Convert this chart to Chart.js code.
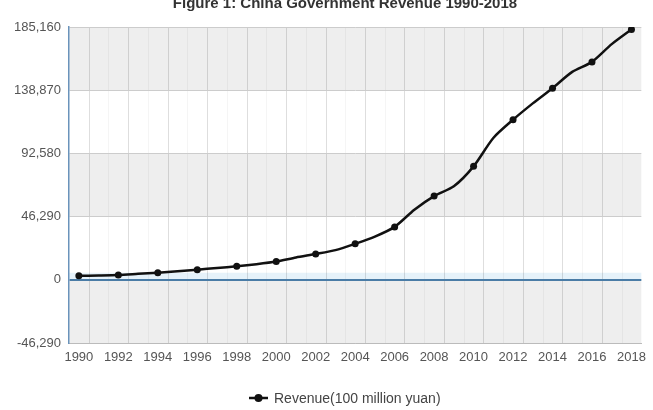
<!DOCTYPE html>
<html>
<head>
<meta charset="utf-8">
<script src="https://cdn.jsdelivr.net/npm/chart.js@4/dist/chart.umd.min.js"></script>
<style>
  html, body { margin: 0; padding: 0; background: #ffffff; }
  #wrap { width: 653px; height: 410px; position: relative; }
</style>
</head>
<body>
<div id="wrap"><canvas id="c" width="653" height="410"></canvas></div>
<script>
// Fiscal revenue of the Chinese government, 100 million yuan
const years = ['1990','1991','1992','1993','1994','1995','1996','1997','1998','1999',
               '2000','2001','2002','2003','2004','2005','2006','2007','2008','2009',
               '2010','2011','2012','2013','2014','2015','2016','2017','2018'];
const revenue = [2937, 3149, 3483, 4349, 5218, 6242, 7408, 8651, 9876, 11444,
                 13395, 16386, 18904, 21715, 26396, 31649, 38760, 51322, 61330, 68518,
                 83102, 103874, 117254, 129210, 140370, 152269, 159605, 172593, 183360];
const yTicks = [-46290, 0, 46290, 92580, 138870, 185160];
const seriesName = 'Revenue(100 million yuan)';
const chartTitle = 'Figure 1: China Government Revenue 1990-2018';

const FONT = "'Liberation Sans', Arial, sans-serif";

// alternating horizontal bands, column separators and the soft tint above the zero line
const backdrop = {
  id: 'backdrop',
  beforeDraw(chart) {
    const { ctx, chartArea: a, scales: { x, y } } = chart;
    ctx.save();
    ctx.fillStyle = '#ffffff';
    ctx.fillRect(a.left, a.top, a.right - a.left, a.bottom - a.top);
    for (let i = 0; i < yTicks.length - 1; i++) {
      if (i % 2 === 0) {
        const y1 = y.getPixelForValue(yTicks[i + 1]);
        const y0 = y.getPixelForValue(yTicks[i]);
        ctx.fillStyle = '#eeeeee';
        ctx.fillRect(a.left, y1, a.right - a.left, y0 - y1);
      }
    }
    const z = y.getPixelForValue(0);
    ctx.fillStyle = 'rgba(205,230,245,0.5)';
    ctx.fillRect(a.left, z - 7, a.right - a.left, 7);
    // separators between categories: stronger every other year
    for (let i = 0; i < years.length - 1; i++) {
      const px = Math.round((x.getPixelForValue(i) + x.getPixelForValue(i + 1)) / 2) + 0.5;
      ctx.strokeStyle = i % 2 === 0 ? 'rgba(0,0,0,0.13)' : 'rgba(0,0,0,0.04)';
      ctx.lineWidth = 1;
      ctx.beginPath();
      ctx.moveTo(px, a.top);
      ctx.lineTo(px, a.bottom);
      ctx.stroke();
    }
    ctx.restore();
  },
  afterDraw(chart) {
    const { ctx } = chart;
    ctx.save();
    // title, sitting at the very top edge
    ctx.fillStyle = '#333333';
    ctx.font = "bold 15px " + FONT;
    ctx.textAlign = 'center';
    ctx.textBaseline = 'alphabetic';
    ctx.fillText(chartTitle, 345, 8, 370);
    // legend: line with a dot, then the series name
    const ly = 398;
    ctx.strokeStyle = '#111111';
    ctx.lineWidth = 2.5;
    ctx.beginPath();
    ctx.moveTo(249, ly);
    ctx.lineTo(268, ly);
    ctx.stroke();
    ctx.fillStyle = '#111111';
    ctx.beginPath();
    ctx.arc(258.5, ly, 4, 0, Math.PI * 2);
    ctx.fill();
    ctx.fillStyle = '#444444';
    ctx.font = "14px " + FONT;
    ctx.textAlign = 'left';
    ctx.textBaseline = 'middle';
    ctx.fillText(chart.data.datasets[0].label, 274, ly + 1, 170);
    ctx.restore();
  }
};

new Chart(document.getElementById('c'), {
  type: 'line',
  data: {
    labels: years,
    datasets: [{
      label: seriesName,
      data: revenue,
      borderColor: '#111111',
      backgroundColor: '#111111',
      borderWidth: 2.5,
      tension: 0.25,
      pointRadius: years.map((yr, i) => (i % 2 === 0 ? 3.5 : 0)),
      pointHoverRadius: 4,
      pointBackgroundColor: '#111111',
      pointBorderWidth: 0,
      fill: false
    }]
  },
  options: {
    responsive: false,
    animation: false,
    devicePixelRatio: 1,
    layout: { padding: { top: 27, right: 5, bottom: 45, left: 0 } },
    plugins: {
      legend: { display: false },
      title: { display: false },
      tooltip: { enabled: false }
    },
    scales: {
      x: {
        type: 'category',
        offset: true,
        grid: { display: false, drawTicks: false },
        border: { display: true, color: '#bbbbbb', width: 1 },
        ticks: {
          autoSkip: false,
          maxRotation: 0,
          padding: 7,
          color: '#555555',
          font: { family: FONT, size: 13 },
          callback: function (v, i) { return i % 2 === 0 ? years[i] : ''; }
        },
        afterFit(s) { s.height = 22; }
      },
      y: {
        min: yTicks[0],
        max: yTicks[yTicks.length - 1],
        afterBuildTicks(s) { s.ticks = yTicks.map(v => ({ value: v })); },
        grid: {
          drawTicks: false,
          color: ctx => (ctx.tick && ctx.tick.value === 0 ? '#4a7ca6' : '#cccccc'),
          lineWidth: ctx => (ctx.tick && ctx.tick.value === 0 ? 2 : 1)
        },
        border: { display: true, color: '#6a93bb', width: 1.5 },
        ticks: {
          padding: 8,
          color: '#555555',
          font: { family: FONT, size: 13 },
          callback: v => v.toLocaleString('en-US')
        },
        afterFit(s) { s.width = 69; }
      }
    }
  },
  plugins: [backdrop]
});
</script>
</body>
</html>
